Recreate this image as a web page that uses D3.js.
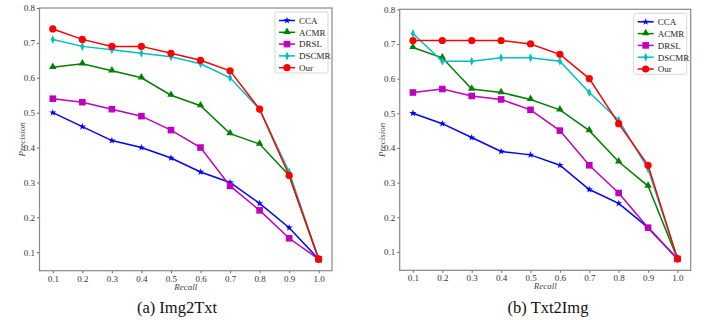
<!DOCTYPE html>
<html>
<head>
<meta charset="utf-8">
<script src="https://cdn.jsdelivr.net/npm/d3@7"></script>
<style>
  body { margin: 0; background: #fff; }
  svg text { font-family: "Liberation Serif", "DejaVu Serif", serif; }
</style>
</head>
<body>
<div id="chart"></div>
<script>
// recall levels and series names
const recall = [0.1, 0.2, 0.3, 0.4, 0.5, 0.6, 0.7, 0.8, 0.9, 1.0];
const methods = ["CCA", "ACMR", "DRSL", "DSCMR", "Our"];
const yTicks = [0.1, 0.2, 0.3, 0.4, 0.5, 0.6, 0.7, 0.8];

// (a) Img2Txt
const img2txtCCA   = [0.50, 0.46, 0.42, 0.40, 0.37, 0.33, 0.30, 0.24, 0.17, 0.08];
const img2txtACMR  = [0.63, 0.64, 0.62, 0.60, 0.55, 0.52, 0.44, 0.41, 0.32, 0.08];
const img2txtDRSL  = [0.54, 0.53, 0.51, 0.49, 0.45, 0.40, 0.29, 0.22, 0.14, 0.08];
const img2txtDSCMR = [0.71, 0.69, 0.68, 0.67, 0.66, 0.64, 0.60, 0.51, 0.33, 0.08];
const img2txtOur   = [0.74, 0.71, 0.69, 0.69, 0.67, 0.65, 0.62, 0.51, 0.32, 0.08];

// (b) Txt2Img
const txt2imgCCA   = [0.50, 0.47, 0.43, 0.39, 0.38, 0.35, 0.28, 0.24, 0.17, 0.08];
const txt2imgACMR  = [0.69, 0.66, 0.57, 0.56, 0.54, 0.51, 0.45, 0.36, 0.29, 0.08];
const txt2imgDRSL  = [0.56, 0.57, 0.55, 0.54, 0.51, 0.45, 0.35, 0.27, 0.17, 0.08];
const txt2imgDSCMR = [0.73, 0.65, 0.65, 0.66, 0.66, 0.65, 0.56, 0.48, 0.34, 0.08];
const txt2imgOur   = [0.71, 0.71, 0.71, 0.71, 0.70, 0.67, 0.60, 0.47, 0.35, 0.08];

const colors = { CCA: "#0000ff", ACMR: "#008000", DRSL: "#bf00bf", DSCMR: "#00bfbf", Our: "#ff0000" };
const serif = "'Liberation Serif', 'DejaVu Serif', serif";

const svg = d3.select("#chart").append("svg")
    .attr("width", 706)
    .attr("height", 320);

function drawMarker(g, name, x, y) {
  const c = colors[name];
  if (name === "CCA") {
    g.append("path").attr("d", d3.symbol(d3.symbolStar, 16)()).attr("transform", `translate(${x},${y})`).attr("fill", c);
  } else if (name === "ACMR") {
    g.append("path").attr("d", d3.symbol(d3.symbolTriangle, 24)()).attr("transform", `translate(${x},${y - 0.5})`).attr("fill", c);
  } else if (name === "DRSL") {
    g.append("rect").attr("x", x - 3.3).attr("y", y - 3.3).attr("width", 6.6).attr("height", 6.6).attr("fill", c);
  } else if (name === "DSCMR") {
    g.append("path").attr("d", `M${x},${y - 4.5}L${x + 2},${y}L${x},${y + 4.5}L${x - 2},${y}Z`).attr("fill", c);
  } else {
    g.append("circle").attr("cx", x).attr("cy", y).attr("r", 3.6).attr("fill", c);
  }
}

function drawPanel(opts) {
  const { left, right, top, bottom, series, caption, captionX } = opts;

  const x = d3.scaleLinear().domain([0.055, 1.045]).range([left, right]);
  const y = d3.scaleLinear().domain([0.047, 0.8]).range([bottom, top]);

  const g = svg.append("g");

  // axes
  const xAxis = g.append("g")
      .attr("transform", `translate(0,${bottom})`)
      .call(d3.axisBottom(x).tickValues(recall).tickFormat(d3.format(".1f")).tickSize(2.5).tickPadding(2));
  const yAxis = g.append("g")
      .attr("transform", `translate(${left},0)`)
      .call(d3.axisLeft(y).tickValues(yTicks).tickFormat(d3.format(".1f")).tickSize(2.5).tickPadding(2));
  [xAxis, yAxis].forEach(a => {
    a.attr("font-family", serif);
    a.select(".domain").remove();
    a.selectAll("line").attr("stroke", "#666");
    a.selectAll("text").attr("font-family", serif).attr("font-size", 9).attr("fill", "#333");
  });

  // frame
  g.append("rect")
      .attr("x", left).attr("y", top)
      .attr("width", right - left).attr("height", bottom - top)
      .attr("fill", "none").attr("stroke", "#888").attr("stroke-width", 1.2);

  const line = d3.line().x((d, i) => x(recall[i])).y(d => y(d));

  methods.forEach(name => {
    const vals = series[name];
    g.append("path")
        .attr("d", line(vals))
        .attr("fill", "none")
        .attr("stroke", colors[name])
        .attr("stroke-width", 1.5);
    vals.forEach((v, i) => drawMarker(g, name, x(recall[i]), y(v)));
  });

  // axis labels
  g.append("text")
      .attr("x", (left + right) / 2).attr("y", bottom + 19)
      .attr("text-anchor", "middle")
      .attr("font-family", serif)
      .attr("font-style", "italic").attr("font-size", 9).attr("fill", "#444")
      .text("Recall");
  g.append("text")
      .attr("transform", `translate(${left - 15},${(top + bottom) / 2}) rotate(-90)`)
      .attr("text-anchor", "middle")
      .attr("font-family", serif)
      .attr("font-style", "italic").attr("font-size", 9).attr("fill", "#444")
      .text("Precision");

  // legend
  const lx = right - 57, ly = top + 4;
  g.append("rect")
      .attr("x", lx).attr("y", ly).attr("width", 53).attr("height", 61).attr("rx", 2)
      .attr("fill", "#fff").attr("stroke", "#ccc").attr("stroke-width", 0.8);
  methods.forEach((name, i) => {
    const yy = ly + 8.5 + i * 11.8;
    g.append("line")
        .attr("x1", lx + 4).attr("x2", lx + 20).attr("y1", yy).attr("y2", yy)
        .attr("stroke", colors[name]).attr("stroke-width", 1.5);
    drawMarker(g, name, lx + 12, yy);
    g.append("text")
        .attr("x", lx + 24).attr("y", yy + 3.3)
        .attr("font-family", serif)
        .attr("font-size", 9).attr("fill", "#222")
        .text(name);
  });

  // caption
  svg.append("text")
      .attr("x", captionX).attr("y", 313)
      .attr("text-anchor", "middle")
      .attr("font-family", serif)
      .attr("font-size", 16.5).attr("fill", "#111")
      .text(caption);
}

drawPanel({
  left: 39.5, right: 332, top: 8, bottom: 270.7,
  series: { CCA: img2txtCCA, ACMR: img2txtACMR, DRSL: img2txtDRSL, DSCMR: img2txtDSCMR, Our: img2txtOur },
  caption: "(a) Img2Txt", captionX: 177
});

drawPanel({
  left: 399.7, right: 690.7, top: 9.3, bottom: 270.3,
  series: { CCA: txt2imgCCA, ACMR: txt2imgACMR, DRSL: txt2imgDRSL, DSCMR: txt2imgDSCMR, Our: txt2imgOur },
  caption: "(b) Txt2Img", captionX: 548
});
</script>
</body>
</html>
